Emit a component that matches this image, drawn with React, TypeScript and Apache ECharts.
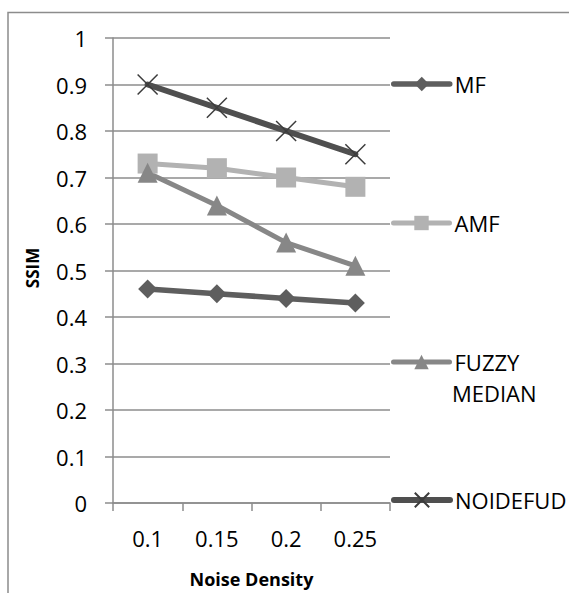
import React, { useEffect, useRef } from "react";
import * as echarts from "echarts";

const categories = ["0.1", "0.15", "0.2", "0.25"];
const mfValues = [0.46, 0.45, 0.44, 0.43];
const amfValues = [0.73, 0.72, 0.7, 0.68];
const fuzzyValues = [0.71, 0.64, 0.56, 0.51];
const noidefudValues = [0.9, 0.85, 0.8, 0.75];

const FONT = '"Open Sans", sans-serif';
const GRID_COLOR = "#8c8c8c";

const seriesDefs = [
  { name: "MF", data: mfValues, color: "#5e5e5e", symbol: "diamond", size: 19, legendTop: 84, width: 5.5 },
  { name: "AMF", data: amfValues, color: "#b2b2b2", symbol: "rect", size: 20, legendTop: 223, width: 5 },
  { name: "FUZZY MEDIAN", data: fuzzyValues, color: "#878787", symbol: "triangle", size: 20, legendTop: 362, width: 5 },
  { name: "NOIDEFUD", data: noidefudValues, color: "#4f4f4f", symbol: "path://M0,0L10,10M10,0L0,10", size: 20, legendTop: 500, width: 6 },
];

export default function App() {
  const ref = useRef<HTMLDivElement>(null);
  useEffect(() => {
    if (!ref.current) return;
    const chart = echarts.init(ref.current, undefined, { renderer: "svg" });
    const option: any = {
      animation: false,
      backgroundColor: "#fff",
      grid: { left: 113, top: 38, right: 179, bottom: 80, containLabel: false },
      xAxis: {
        type: "category",
        data: categories,
        boundaryGap: true,
        name: "Noise Density",
        nameLocation: "middle",
        nameGap: 67,
        nameTextStyle: { fontFamily: FONT, fontWeight: "bold", fontSize: 18, color: "#000" },
        axisLine: { show: true, lineStyle: { color: GRID_COLOR, width: 1.5 } },
        axisTick: { show: true, length: 8, alignWithLabel: false, lineStyle: { color: GRID_COLOR, width: 1.5 } },
        axisLabel: { fontFamily: FONT, fontSize: 22, color: "#000", margin: 24 },
        splitLine: { show: false },
      },
      yAxis: {
        type: "value",
        min: 0,
        max: 1,
        interval: 0.1,
        axisLine: { show: true, lineStyle: { color: GRID_COLOR, width: 1.5 } },
        axisTick: { show: true, length: 8, lineStyle: { color: GRID_COLOR, width: 1.5 } },
        axisLabel: {
          fontFamily: FONT,
          fontSize: 22,
          color: "#000",
          margin: 26,
          formatter: (v: number) => String(Math.round(v * 10) / 10),
        },
        splitLine: { show: true, lineStyle: { color: GRID_COLOR, width: 1.5 } },
      },
      legend: seriesDefs.map((s) => ({
        data: [s.name],
        orient: "vertical",
        left: 391,
        top: s.legendTop - 13,
        padding: 0,
        itemWidth: 56,
        itemHeight: 18,
        itemGap: 5,
        selectedMode: false,
        lineStyle: { width: s.width, cap: "round" },
        formatter: (n: string) => (n === "FUZZY MEDIAN" ? "FUZZY" : n),
        textStyle: { fontFamily: FONT, fontSize: 22, color: "#000", lineHeight: 26 },
      })),
      graphic: [
        {
          type: "rect",
          silent: true,
          shape: { x: 8, y: 12.5, width: 700, height: 700 },
          style: { fill: "none", stroke: "#8c8c8c", lineWidth: 1.5 },
          z: -10,
        },
        {
          type: "text",
          left: 452,
          top: 393 - 13,
          style: { text: "MEDIAN", fontFamily: FONT, fontSize: 22, fill: "#000", lineHeight: 26 },
        },
        {
          type: "text",
          x: 32,
          y: 268,
          rotation: Math.PI / 2,
          style: {
            text: "SSIM",
            fontFamily: FONT,
            fontSize: 17,
            fontWeight: "bold",
            fill: "#000",
            align: "center",
            verticalAlign: "middle",
          },
        },
      ],
      series: seriesDefs.map((s) => ({
        name: s.name,
        type: "line",
        data: s.data,
        symbol: s.symbol,
        symbolSize: s.size,
        showSymbol: true,
        lineStyle: { color: s.color, width: s.width, cap: "round" },
        itemStyle:
          s.name === "NOIDEFUD"
            ? { color: s.color, borderColor: "#3c3c3c", borderWidth: 1.5 }
            : { color: s.color, borderWidth: 0 },
        emphasis: { disabled: true },
        z: s.name === "NOIDEFUD" ? 4 : 3,
      })),
    };
    chart.setOption(option);
    return () => chart.dispose();
  }, []);
  return (
    <div
      ref={ref}
      style={{ position: "fixed", left: 0, top: 0, width: 569, height: 593, background: "#fff" }}
    />
  );
}
